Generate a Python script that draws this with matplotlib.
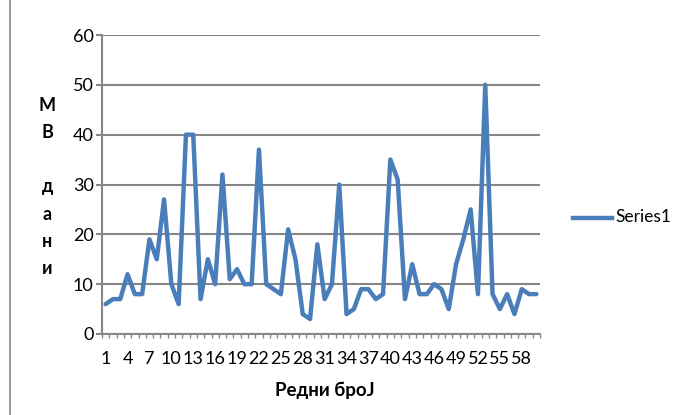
import matplotlib
matplotlib.use("Agg")
import matplotlib.pyplot as plt
from matplotlib.lines import Line2D

categories = list(range(1, 61))
values = [6, 7, 7, 12, 8, 8, 19, 15, 27, 10,
          6, 40, 40, 7, 15, 10, 32, 11, 13, 10,
          10, 37, 10, 9, 8, 21, 15, 4, 3, 18,
          7, 10, 30, 4, 5, 9, 9, 7, 8, 35,
          31, 7, 14, 8, 8, 10, 9, 5, 14, 19,
          25, 8, 50, 8, 5, 8, 4, 9, 8, 8]
xtick_labels = [str(c) for c in range(1, 61, 3)]
yticks = [0, 10, 20, 30, 40, 50, 60]
series_name = "Series1"
x_title = "Редни броЈ"
y_title_letters = ["М", "В", " ", "д", "а", "н", "и"]

W, H = 678, 415
fig = plt.figure(figsize=(W / 100, H / 100), dpi=100)
font = ["Lato", "DejaVu Sans"]
plt.rcParams['font.family'] = font

gray = "#868686"
blue = "#4A7EBB"

ax = fig.add_axes([102 / W, 1 - 334 / H, (540 - 102) / W, (334 - 35) / H])
ax.plot(categories, values, color=blue, lw=3.2, solid_joinstyle="round",
        solid_capstyle="round", zorder=3, clip_on=False)
ax.set_xlim(0.5, 60.5)
ax.set_ylim(0, 60)
ax.set_yticks(yticks)
ax.yaxis.grid(True, color=gray, lw=1.5)
ax.set_axisbelow(True)
for s in ["top", "right"]:
    ax.spines[s].set_visible(False)
for s in ["left", "bottom"]:
    ax.spines[s].set_color(gray)
    ax.spines[s].set_linewidth(1.5)
ax.tick_params(axis="y", direction="out", length=4, width=1.5, color=gray,
               labelsize=13, pad=2, labelcolor="#000000")
ax.set_xticks(list(range(1, 61, 3)))
ax.set_xticklabels(xtick_labels)
ax.set_xticks([c + 0.5 for c in [0] + categories], minor=True)
ax.tick_params(axis="x", which="major", length=0, labelsize=13, pad=12)
ax.tick_params(axis="x", which="minor", direction="out", length=3, width=1, color=gray)

fig.text(325 / W, 1 - 390 / H, x_title, ha="center", va="center",
         fontsize=13.5, fontweight="bold")
y0, dy = 105, 27.3
for i, ch in enumerate(y_title_letters):
    fig.text(47 / W, 1 - (y0 + i * dy) / H, ch, ha="center", va="center",
             fontsize=13, fontweight="bold")

fig.add_artist(Line2D([573 / W, 612 / W], [1 - 218 / H, 1 - 218 / H],
                      color=blue, lw=3.2, transform=fig.transFigure))
fig.text(615 / W, 1 - 217 / H, series_name, ha="left", va="center", fontsize=12.5)

fig.add_artist(Line2D([10 / W, 10 / W], [0, 1], color=gray, lw=1.2,
                      transform=fig.transFigure))

fig.savefig("out.png", dpi=100)
